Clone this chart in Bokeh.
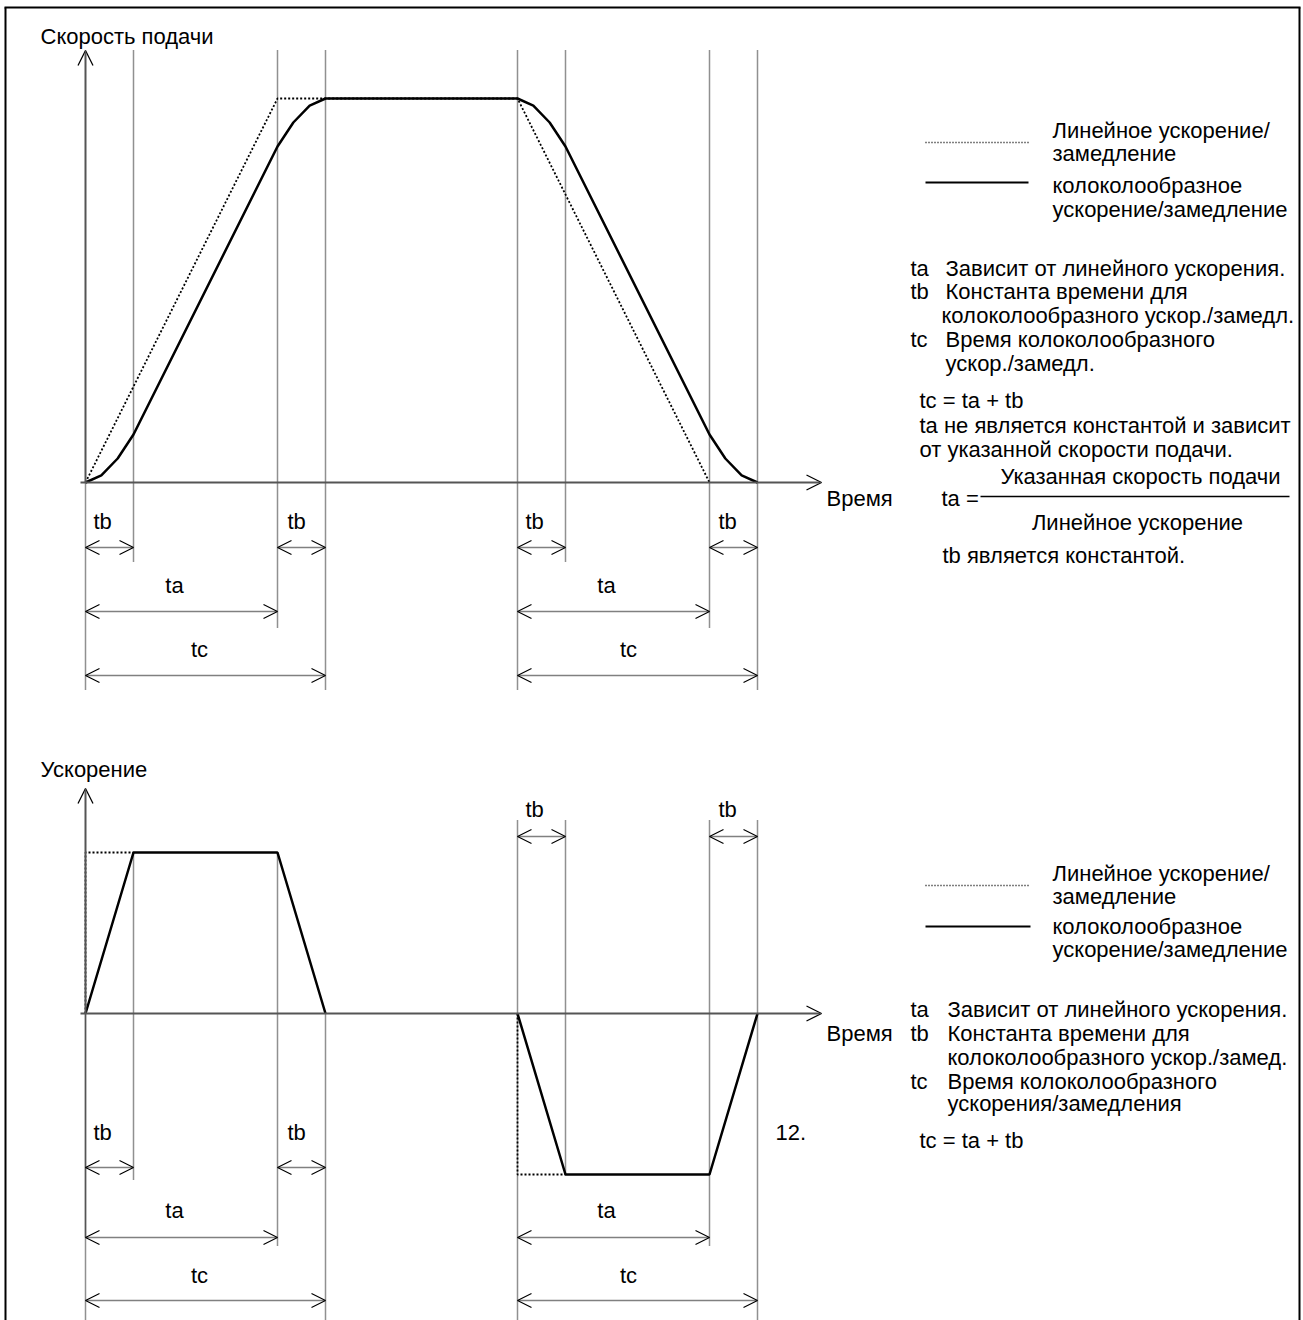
from bokeh.plotting import figure
from bokeh.models import Range1d, Arrow, OpenHead, Label
from bokeh.embed import file_html
from bokeh.resources import INLINE

# ---------------- data ----------------
# time measured in units of tb  (tb = 1, ta = 4, tc = ta + tb = 5)
key_times = [0, 1, 4, 5, 9, 10, 13, 14]

# feed rate (upper diagram), arbitrary units (commanded feed rate = 8)
lin_t = [0, 4, 9, 13]
lin_v = [0, 8, 8, 0]
bell_t = [0, 0.33, 0.67, 1, 4, 4.33, 4.67, 5, 9, 9.33, 9.67, 10, 13, 13.33, 13.67, 14]
bell_v = [0, 0.15, 0.5, 1.0, 7.0, 7.5, 7.85, 8.0, 8.0, 7.85, 7.5, 7.0, 1.0, 0.5, 0.15, 0]

# acceleration (lower diagram), normalised
acc_lin_t = [[0, 0, 1], [9, 9, 10]]
acc_lin_a = [[0, 1, 1], [0, -1, -1]]
acc_bell_t = [[0, 1, 4, 5], [9, 10, 13, 14]]
acc_bell_a = [[0, 1, 1, 0], [0, -1, -1, 0]]

# dimension spans (start, end)
dims_tb = [(0, 1), (4, 5), (9, 10), (13, 14)]
dims_ta = [(0, 4), (9, 13)]
dims_tc = [(0, 5), (9, 14)]

# ---------------- layout helpers (page pixels -> data) ----------------
W, H = 1303, 1320
PX0, PY0 = 0, 0
ORIGIN_X, PX_T = 85, 48.0
V0_Y, PX_V = 482, 48.0
A0_Y, PX_A = 1013, 161.0


def X(px):
    return (px - ORIGIN_X) / PX_T


def Y(py):
    return (V0_Y - py) / PX_V


def AY(py):
    return (A0_Y - py) / PX_A


p = figure(width=W, height=H,
           x_range=Range1d(X(PX0), X(PX0 + W)),
           y_range=Range1d(Y(PY0 + H), Y(PY0)),
           x_axis_type=None, y_axis_type=None,
           output_backend="svg", toolbar_location=None,
           min_border=0, min_border_left=0, min_border_right=0,
           min_border_top=0, min_border_bottom=0)
p.extra_y_ranges = {"acc": Range1d(AY(PY0 + H), AY(PY0))}
p.grid.visible = False
p.outline_line_color = None
p.background_fill_color = "white"
p.border_fill_color = "white"

FONT = "Liberation Sans"
FS = "22px"
DOT = "1 1"
GUIDE_COLOR = "#222222"
AXIS_COLOR = "#555555"

# ---- border ----
p.line([X(5), X(5)], [Y(1320), Y(7)], line_color="black", line_width=2)
p.line([X(4), X(1300)], [Y(7), Y(7)], line_color="black", line_width=2)
p.line([X(1299), X(1299)], [Y(1320), Y(7)], line_color="black", line_width=2)

# ---- vertical guide lines (dotted) ----
up_top = {0: 482, 1: 50, 4: 50, 5: 50, 9: 50, 10: 50, 13: 50, 14: 50}
up_bot = {0: 690, 1: 562, 4: 627, 5: 690, 9: 690, 10: 562, 13: 627, 14: 690}
lo_top = {0: 1013, 1: 852, 4: 852, 5: 1013, 9: 820, 10: 820, 13: 820, 14: 820}
lo_bot = {0: 1320, 1: 1180, 4: 1245, 5: 1320, 9: 1320, 10: 1173, 13: 1245, 14: 1320}
p.segment(x0=key_times, y0=[Y(up_top[t]) for t in key_times],
          x1=key_times, y1=[Y(up_bot[t]) for t in key_times],
          line_color=GUIDE_COLOR, line_width=1.5, line_dash=DOT)
p.segment(x0=key_times, y0=[AY(lo_top[t]) for t in key_times],
          x1=key_times, y1=[AY(lo_bot[t]) for t in key_times],
          line_color=GUIDE_COLOR, line_width=1.5, line_dash=DOT, y_range_name="acc")
# lower vertical axis continues (solid, grey) below the time axis
p.line([0, 0], [0, AY(1237)], line_color=AXIS_COLOR, line_width=1.5, y_range_name="acc")

# ---- axes with arrows ----
def axis_arrow(xs, ys, xe, ye, rng="default"):
    p.add_layout(Arrow(end=OpenHead(size=15, line_width=1.3, line_color="black"),
                       x_start=xs, y_start=ys, x_end=xe, y_end=ye,
                       line_color=AXIS_COLOR, line_width=2, y_range_name=rng))

axis_arrow(0, 0, 0, Y(50))
axis_arrow(X(80), 0, X(821), 0)
axis_arrow(0, 0, 0, AY(788), "acc")
axis_arrow(X(80), 0, X(821), 0, "acc")

# ---- curves ----
p.line(lin_t, lin_v, line_color="black", line_width=1.8, line_dash="2 2")
p.line(bell_t, bell_v, line_color="black", line_width=2.5)
for tt, aa in zip(acc_lin_t, acc_lin_a):
    p.line(tt, aa, line_color="black", line_width=1.8, line_dash="2 2", y_range_name="acc")
for tt, aa in zip(acc_bell_t, acc_bell_a):
    p.line(tt, aa, line_color="black", line_width=2.5, y_range_name="acc")

# ---- dimension arrows ----
def dim(x0, x1, yv, rng="default"):
    p.add_layout(Arrow(start=OpenHead(size=14, line_width=1.2, line_color="black"),
                       end=OpenHead(size=14, line_width=1.2, line_color="black"),
                       x_start=x0, y_start=yv, x_end=x1, y_end=yv,
                       line_color="black", line_width=1.5, line_dash=DOT, y_range_name=rng))

for a, b in dims_tb:
    dim(a, b, Y(547))
for a, b in dims_ta:
    dim(a, b, Y(611))
for a, b in dims_tc:
    dim(a, b, Y(675))
for a, b in dims_tb[:2]:
    dim(a, b, AY(1167), "acc")
for a, b in dims_tb[2:]:
    dim(a, b, AY(836), "acc")
for a, b in dims_ta:
    dim(a, b, AY(1237), "acc")
for a, b in dims_tc:
    dim(a, b, AY(1300), "acc")

# ---- legend samples & fraction line ----
p.line([X(925), X(1028)], [Y(142), Y(142)], line_color="black", line_width=1.5, line_dash="1 2")
p.line([X(925), X(1028)], [Y(182), Y(182)], line_color="black", line_width=2)
p.line([X(925), X(1030)], [Y(885), Y(885)], line_color="black", line_width=1.5, line_dash="1 2")
p.line([X(925), X(1030)], [Y(926), Y(926)], line_color="black", line_width=2)
p.line([X(980), X(1289)], [Y(496), Y(496)], line_color="black", line_width=1.5)


# ---- texts ----
def lab(px, py, txt, align="left"):
    p.add_layout(Label(x=X(px), y=Y(py), text=txt, text_font=FONT, text_font_size=FS,
                       text_color="black", text_baseline="middle", text_align=align))


# upper
lab(40, 36, "Скорость подачи")
lab(826, 498, "Время")
lab(1052, 130, "Линейное ускорение/")
lab(1052, 153, "замедление")
lab(1052, 185, "колоколообразное")
lab(1052, 209, "ускорение/замедление")
lab(910, 268, "ta")
lab(945, 268, "Зависит от линейного ускорения.")
lab(910, 291, "tb")
lab(945, 291, "Константа времени для")
lab(941, 315, "колоколообразного ускор./замедл.")
lab(910, 339, "tc")
lab(945, 339, "Время колоколообразного")
lab(945, 363, "ускор./замедл.")
lab(919, 400, "tc = ta + tb")
lab(919, 425, "ta не является константой и зависит")
lab(919, 449, "от указанной скорости подачи.")
lab(1140, 476, "Указанная скорость подачи", "center")
lab(941, 498, "ta =")
lab(1137, 522, "Линейное ускорение", "center")
lab(942, 555, "tb является константой.")

for x_ in (93, 287, 525, 718):
    lab(x_, 521, "tb")
lab(174, 585, "ta", "center")
lab(606, 585, "ta", "center")
lab(199, 649, "tc", "center")
lab(628, 649, "tc", "center")

# lower
lab(40, 769, "Ускорение")
lab(826, 1033, "Время")
lab(1052, 873, "Линейное ускорение/")
lab(1052, 896, "замедление")
lab(1052, 926, "колоколообразное")
lab(1052, 949, "ускорение/замедление")
lab(910, 1009, "ta")
lab(947, 1009, "Зависит от линейного ускорения.")
lab(910, 1033, "tb")
lab(947, 1033, "Константа времени для")
lab(947, 1057, "колоколообразного ускор./замед.")
lab(910, 1081, "tc")
lab(947, 1081, "Время колоколообразного")
lab(947, 1103, "ускорения/замедления")
lab(919, 1140, "tc = ta + tb")
lab(775, 1132, "12.")

for x_ in (93, 287):
    lab(x_, 1132, "tb")
for x_ in (525, 718):
    lab(x_, 809, "tb")
lab(174, 1210, "ta", "center")
lab(606, 1210, "ta", "center")
lab(199, 1275, "tc", "center")
lab(628, 1275, "tc", "center")

open("out.html", "w").write(file_html(p, INLINE))
